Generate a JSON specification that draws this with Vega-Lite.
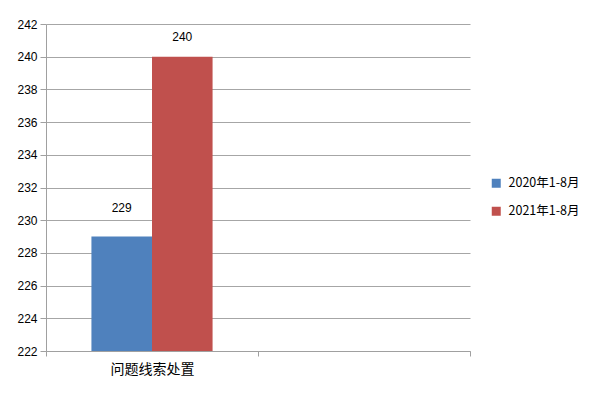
{
  "$schema": "https://vega.github.io/schema/vega-lite/v6.json",
  "width": 424,
  "height": 327,
  "autosize": {"type": "none"},
  "padding": {"left": 46, "top": 24, "right": 130, "bottom": 49},
  "background": "white",
  "config": {
    "view": {"stroke": null},
    "font": "Liberation Sans",
    "axis": {"domainColor": "#A0A0A0", "tickColor": "#A0A0A0", "gridColor": "#A6A6A6", "labelColor": "#000000", "labelFont": "Liberation Sans"}
  },
  "data": {
    "values": [
      {"category": "问题线索处置", "series": "2020年1-8月", "value": 229},
      {"category": "问题线索处置", "series": "2021年1-8月", "value": 240}
    ]
  },
  "encoding": {
    "x": {
      "field": "category",
      "type": "nominal",
      "scale": {"domain": ["问题线索处置", ""], "paddingInner": 0, "paddingOuter": 0},
      "axis": {
        "title": null,
        "labelAngle": 0,
        "tickBand": "extent",
        "tickSize": 5,
        "labelPadding": 6,
        "labelFont": "Noto Sans CJK SC",
        "labelFontSize": 14,
        "grid": false
      }
    },
    "xOffset": {
      "field": "series",
      "type": "nominal",
      "scale": {"paddingInner": 0, "paddingOuter": 0.75}
    },
    "y": {
      "field": "value",
      "type": "quantitative",
      "scale": {"domain": [222, 242], "zero": false, "nice": false},
      "axis": {
        "title": null,
        "values": [222, 224, 226, 228, 230, 232, 234, 236, 238, 240, 242],
        "tickSize": 6,
        "labelPadding": 3,
        "labelFontSize": 12,
        "grid": true
      }
    }
  },
  "layer": [
    {
      "mark": {"type": "bar"},
      "encoding": {
        "y2": {"datum": 222},
        "color": {
          "field": "series",
          "type": "nominal",
          "scale": {"domain": ["2020年1-8月", "2021年1-8月"], "range": ["#4F81BD", "#C0504D"]},
          "legend": {
            "title": null,
            "orient": "none",
            "legendX": 444,
            "legendY": 153,
            "symbolType": "square",
            "symbolSize": 81,
            "symbolStrokeWidth": 0,
            "labelFont": "Noto Sans CJK SC",
            "labelFontSize": 12.5,
            "labelColor": "#000000",
            "rowPadding": 15,
            "labelOffset": 6
          }
        }
      }
    },
    {
      "transform": [{"filter": "datum.series == '2020年1-8月'"}],
      "mark": {"type": "text", "dy": -29, "fontSize": 12, "color": "#000000", "font": "Liberation Sans"},
      "encoding": {
        "text": {"field": "value", "type": "quantitative"}
      }
    },
    {
      "transform": [{"filter": "datum.series == '2021年1-8月'"}],
      "mark": {"type": "text", "dy": -20, "fontSize": 12, "color": "#000000", "font": "Liberation Sans"},
      "encoding": {
        "text": {"field": "value", "type": "quantitative"}
      }
    }
  ]
}
